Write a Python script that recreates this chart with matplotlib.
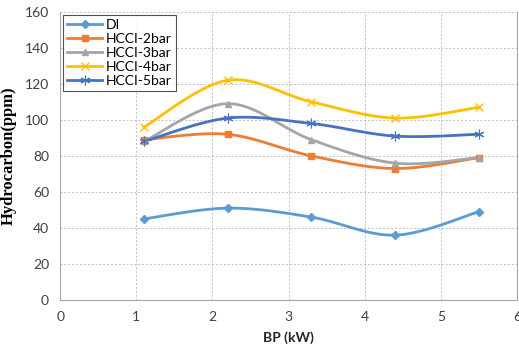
import numpy as np
import matplotlib
matplotlib.use("Agg")
import matplotlib.pyplot as plt

bp = [1.1, 2.2, 3.3, 4.4, 5.5]
di = [45, 51, 46, 36, 49]
hcci_2bar = [89, 92, 80, 73, 79]
hcci_3bar = [88, 109, 89, 76, 79]
hcci_4bar = [96, 122, 110, 101, 107]
hcci_5bar = [88, 101, 98, 91, 92]


def smooth(x, y, n=30):
    # excel style smoothed line (bezier through points)
    x = np.asarray(x, float)
    y = np.asarray(y, float)
    px = np.concatenate([[x[0]], x, [x[-1]]])
    py = np.concatenate([[y[0]], y, [y[-1]]])
    xs, ys = [], []
    t = np.linspace(0, 1, n)
    for i in range(1, len(px) - 2):
        p0 = np.array([px[i], py[i]])
        p3 = np.array([px[i + 1], py[i + 1]])
        p1 = p0 + (np.array([px[i + 1], py[i + 1]]) - np.array([px[i - 1], py[i - 1]])) / 6
        p2 = p3 - (np.array([px[i + 2], py[i + 2]]) - np.array([px[i], py[i]])) / 6
        b = ((1 - t) ** 3)[:, None] * p0 + (3 * (1 - t) ** 2 * t)[:, None] * p1 \
            + (3 * (1 - t) * t ** 2)[:, None] * p2 + (t ** 3)[:, None] * p3
        xs.extend(b[:, 0])
        ys.extend(b[:, 1])
    return xs, ys


plt.rcParams['font.family'] = ['Lato', 'DejaVu Sans']

fig = plt.figure(figsize=(5.19, 3.48), dpi=100)
ax = fig.add_axes([0.116, 0.138, 0.88, 0.828])

series = [
    ("DI", di, "#5B9BD5", "D", 4, 1),
    ("HCCI-2bar", hcci_2bar, "#ED7D31", "s", 5, 1),
    ("HCCI-3bar", hcci_3bar, "#A5A5A5", "^", 5, 1),
    ("HCCI-4bar", hcci_4bar, "#FFC000", "x", 6, 1),
    ("HCCI-5bar", hcci_5bar, "#4472C4", (6, 2, 0), 7, 0.8),
]
for name, vals, c, m, ms, mw in series:
    sx, sy = smooth(bp, vals)
    ax.plot(sx, sy, color=c, lw=2, zorder=3)
    ax.plot(bp, vals, ls='none', marker=m, ms=ms, color=c, mec=c, mew=mw, zorder=4)
    ax.plot([], [], color=c, lw=2, marker=m, ms=ms, mec=c, mew=mw, label=name)

ax.set_xlim(0, 6)
ax.set_ylim(0, 160)
ax.set_xticks(range(0, 7))
ax.set_yticks(range(0, 161, 20))
ax.grid(True, ls=(0, (2, 2)), color='#BFBFBF', lw=0.7)
ax.set_axisbelow(True)
for s in ['left', 'bottom', 'right', 'top']:
    ax.spines[s].set_color('#A6A6A6')
ax.spines['top'].set_visible(False)
ax.tick_params(length=0, labelsize=10, colors='#404040', pad=8)

ax.set_xlabel("BP (kW)", fontsize=10, fontweight='bold', color='#262626', labelpad=6)
ax.set_ylabel("Hydrocarbon(ppm)", fontsize=12, fontweight='bold',
              family='Liberation Serif', labelpad=0)
ax.yaxis.set_label_coords(-0.095, 0.5)

leg = ax.legend(loc='upper left', bbox_to_anchor=(0.0, 1.0), fontsize=10, frameon=True,
                fancybox=False, borderpad=0.3, labelspacing=0.15, handlelength=2.5,
                handletextpad=0.3, borderaxespad=0.2)
leg.get_frame().set_edgecolor('#262626')
leg.get_frame().set_linewidth(0.8)

fig.savefig("out.png", dpi=100)
